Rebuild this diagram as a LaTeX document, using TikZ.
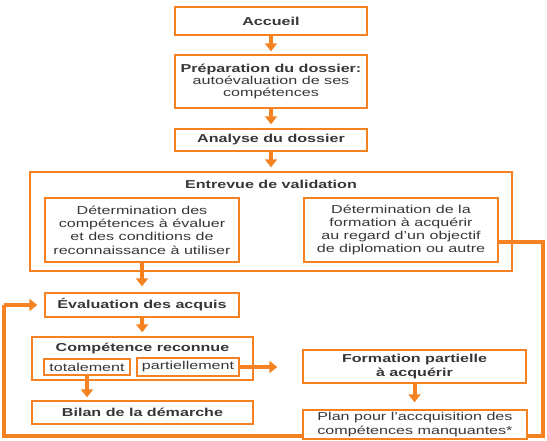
\documentclass[tikz,border=0pt]{standalone}
\usepackage{fontspec}
\setmainfont{Liberation Sans}[FakeStretch=1.4]
\usetikzlibrary{arrows.meta, calc, positioning}
\definecolor{vaeorange}{RGB}{245,130,32}
\definecolor{vaegris}{RGB}{55,55,55}

\begin{document}
\begin{tikzpicture}[x=1pt, y=-1pt, >={Triangle[width=12pt,length=8pt]},
	box/.style={draw=vaeorange, line width=1.4pt, fill=white, inner sep=0pt, align=center, text=vaegris, font=\fontsize{11.5}{13.3}\selectfont},
	titre/.style={inner sep=0pt, text=vaegris, font=\fontsize{11.5}{13.3}\selectfont\bfseries},
	flow/.style={->, draw=vaeorange, line width=4pt},
	retour/.style={draw=vaeorange, line width=4pt}]
	\useasboundingbox (0,0) rectangle (547,440);

	% main column
	\node[box, minimum width=192pt, minimum height=28pt] (accueil) at (271,21) {\bfseries Accueil};
	\node[box, minimum width=192pt, minimum height=53pt, font=\fontsize{11.5}{12}\selectfont] (prep) at (271,81.5) {\bfseries Préparation du dossier:\\autoévaluation de ses\\compétences};
	\node[box, minimum width=192pt, minimum height=22pt] (analyse) at (271,140) {\bfseries Analyse du dossier};

	% validation interview
	\node[box, minimum width=482pt, minimum height=99pt] (entrevue) at (271,221.5) {};
	\node[titre] (entrevuetitre) at (271,184) {Entrevue de validation};
	\node[box, minimum width=194pt, minimum height=64pt] (detcomp) at (142,230) {Détermination des\\compétences à évaluer\\et des conditions de\\reconnaissance à utiliser};
	\node[box, minimum width=194pt, minimum height=64pt] (detform) at (401,230) {Détermination de la\\formation à acquérir\\au regard d’un objectif\\de diplomation ou autre};

	% left branch
	\node[box, minimum width=194pt, minimum height=24pt] (eval) at (142,305) {\bfseries Évaluation des acquis};
	\node[box, minimum width=221pt, minimum height=43pt] (comp) at (142.5,358.5) {};
	\node[titre] (comptitre) at (142.5,348) {Compétence reconnue};
	\node[box, line width=1.2pt, minimum width=86pt, minimum height=16pt] (tot) at (87,367) {totalement};
	\node[box, line width=1.2pt, minimum width=102pt, minimum height=18pt] (part) at (188,367) {partiellement};
	\node[box, minimum width=221pt, minimum height=23pt] (bilan) at (142.5,412.5) {\bfseries Bilan de la démarche};

	% right branch
	\node[box, minimum width=223pt, minimum height=33pt] (form) at (414.5,366.5) {\bfseries Formation partielle\\\bfseries à acquérir};

	% arrows
	\draw[flow, shorten >=3pt] (accueil) -- (prep);
	\draw[flow, shorten >=4pt] (prep) -- (analyse);
	\draw[flow, shorten >=4pt] (analyse) -- (entrevue);
	\draw[flow, shorten >=6pt] (detcomp) -- (eval);
	\draw[flow, shorten >=4pt] (eval) -- (comp);
	\draw[flow, shorten >=3pt] (tot.south) -- (tot.south |- bilan.north);
	\draw[flow, shorten >=25pt] (part.east) -- (part.east -| form.west);

	% loop back to the evaluation
	\coordinate (D) at (543,436);
	\coordinate (G) at (4,305);
	\draw[retour] ([yshift=-12pt]detform.east) -| (D) -| (G);
	\draw[flow, shorten >=7pt] (G) -- (eval.west);

	\node[box, minimum width=224pt, minimum height=29pt] (plan) at (415,424.5) {Plan pour l'accquisition des\\compétences manquantes*};
	\draw[flow, shorten >=7pt] (form.south) -- (form.south |- plan.north);

\end{tikzpicture}
\end{document}
